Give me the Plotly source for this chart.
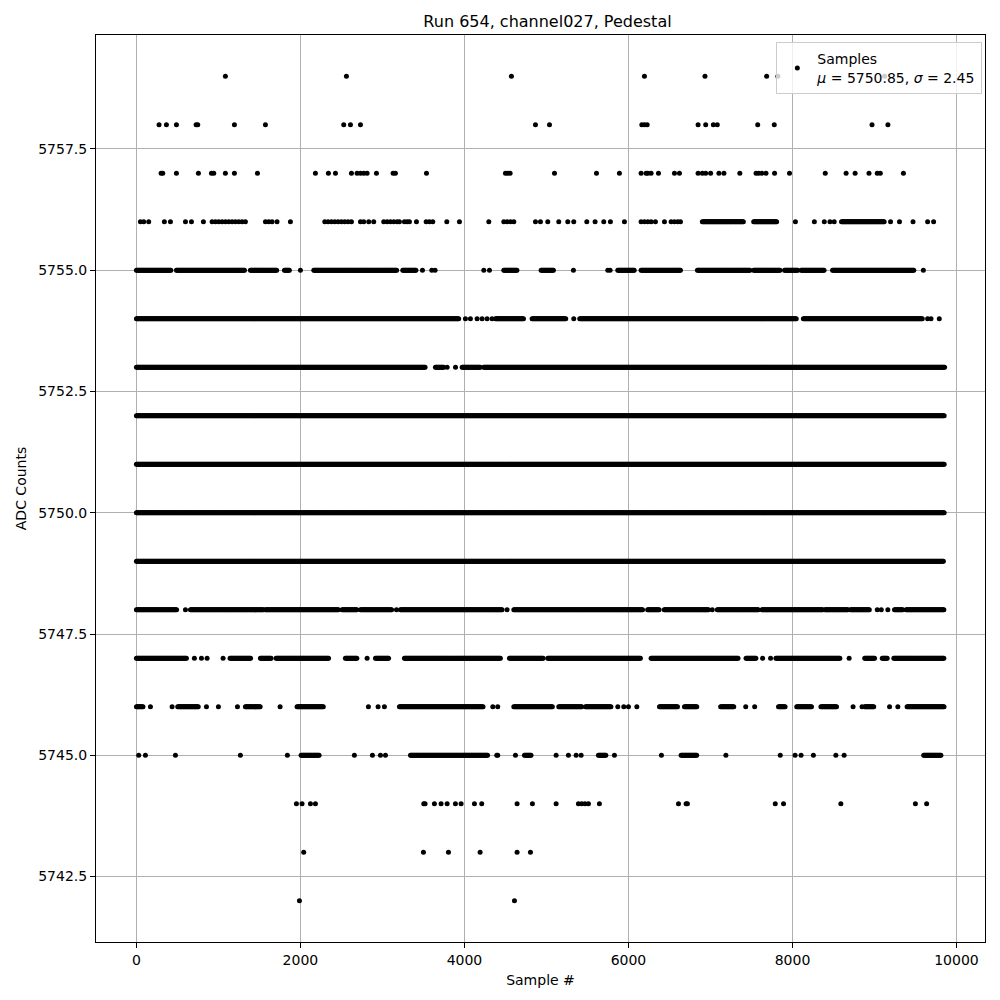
import numpy as np
import plotly.graph_objects as go

# ---- data (sample index positions per ADC level) ----
title_text = "Run 654, channel027, Pedestal"
x_ticks = [0, 2000, 4000, 6000, 8000, 10000]
y_ticks = [5742.5, 5745.0, 5747.5, 5750.0, 5752.5, 5755.0, 5757.5]
legend_label = "Samples<br><i>μ</i> = 5750.85, <i>σ</i> = 2.45"
n_samples = 9855

# runs of consecutive samples observed at each level: (first, last)
seg_5756 = [(6901, 7406), (7527, 7810), (8598, 9123)]
seg_5755 = [(0, 423), (488, 1321), (1390, 1715), (1805, 1870), (2163, 3179), (3248, 3411),
            (4480, 4642), (4935, 5085), (5870, 6073), (6154, 6642), (6841, 7487), (7527, 7851),
            (7903, 8065), (8105, 8388), (8489, 9487)]
seg_5754 = [(0, 3930), (4380, 4720), (4825, 5244), (5406, 8052), (8133, 9588)]
seg_5753 = [(0, 3525), (3646, 3748), (3972, 4195), (4235, 9855)]
seg_5752 = [(0, 9855)]
seg_5751 = [(0, 9855)]
seg_5750 = [(0, 9855)]
seg_5749 = [(0, 9840)]
seg_5748 = [(0, 496), (659, 1553), (1573, 2467), (2508, 2691), (2732, 3118), (3219, 4459),
            (4602, 6174), (6234, 6376), (6436, 6982), (7083, 7588), (7628, 8376), (8396, 8679),
            (8707, 8941), (9244, 9345), (9386, 9855)]
seg_5747 = [(0, 618), (1142, 1398), (1512, 1642), (1703, 2345), (2548, 2691), (2915, 3077),
            (3268, 4447), (4549, 4967), (5016, 6154), (6276, 7345), (7434, 7556), (7798, 8578),
            (8881, 9002), (9095, 9164), (9236, 9855)]
seg_5746 = [(0, 89), (504, 760), (1329, 1512), (1959, 2285), (3207, 4236), (4602, 5077),
            (5150, 5435), (5476, 5789), (6378, 6602), (6683, 6841), (7124, 7285), (7830, 7911),
            (8052, 8234), (8347, 8537), (8881, 8994), (9398, 9855)]
seg_5745 = [(2008, 2236), (3342, 4285), (4732, 4821), (5634, 5727), (6642, 6841), (9600, 9810)]

# isolated samples observed at each level
pts_5759 = [1085, 2561, 4573, 6195, 6933, 7685, 7822, 9123]
pts_5758 = [276, 366, 488, 728, 748, 1195, 1573, 2528, 2610, 2732, 4866, 5037, 6163, 6195, 6228,
            6849, 6942, 7035, 7083, 7576, 7778, 8970, 9164]
pts_5757 = [301, 321, 488, 756, 915, 943, 1085, 1195, 1476, 2183, 2341, 2427, 2622, 2691, 2732,
            2772, 2813, 2927, 3130, 3158, 3537, 4500, 4528, 4557, 5098, 5610, 5890, 6154, 6215,
            6236, 6276, 6366, 6561, 6622, 6849, 6901, 6942, 7002, 7103, 7164, 7358, 7556, 7588,
            7628, 7677, 7782, 7964, 8400, 8654, 8764, 8933, 9034, 9071, 9353]
pts_5756 = [49, 89, 150, 341, 415, 598, 671, 817, 923, 963, 1004, 1045, 1085, 1126, 1167, 1207,
            1248, 1289, 1329, 1573, 1614, 1654, 1715, 1878, 2297, 2337, 2378, 2419, 2459, 2500,
            2541, 2581, 2622, 2732, 2772, 2833, 2894, 3016, 3057, 3098, 3138, 3179, 3207, 3268,
            3301, 3329, 3415, 3533, 3573, 3614, 3785, 3939, 4297, 4480, 4520, 4561, 4602, 4866,
            4927, 5016, 5150, 5260, 5333, 5492, 5593, 5699, 5780, 5951, 6154, 6195, 6236, 6276,
            6329, 6439, 6520, 6561, 6602, 6634, 8036, 8267, 8388, 8457, 8509, 9196, 9305, 9470,
            9648, 9721]
pts_5755 = [2000, 3488, 3602, 3642, 4236, 4305, 5329, 5748, 5776, 9596]
pts_5754 = [4012, 4073, 4154, 4215, 4276, 4337, 5333, 9648, 9689, 9790]
pts_5753 = [3789, 3891]
pts_5748 = [598, 3171, 4520, 7022, 9034, 9083, 9163]
pts_5747 = [707, 793, 862, 1057, 2813, 7636, 7733, 8691]
pts_5746 = [171, 435, 854, 1000, 1232, 1752, 2829, 2947, 3024, 4346, 4406, 5870, 5943, 6000,
            6102, 7430, 7539, 8739, 8848, 9184, 9285]
pts_5745 = [28, 110, 476, 1268, 1841, 2658, 2878, 2976, 3037, 4394, 4406, 4622, 5118, 5268, 5362,
            5423, 5829, 6402, 7188, 7851, 8032, 8105, 8255, 8529, 8630]
pts_5744 = [1951, 2020, 2122, 2183, 3504, 3520, 3634, 3715, 3789, 3890, 3959, 4122, 4211, 4642,
            4829, 5118, 5390, 5430, 5470, 5512, 5646, 6610, 6703, 6719, 7790, 7891, 8590, 9499,
            9636]
pts_5743 = [2040, 3500, 3805, 4191, 4642, 4805]
pts_5742 = [1988, 4610]

level_data = {
    5759: ([], pts_5759), 5758: ([], pts_5758), 5757: ([], pts_5757),
    5756: (seg_5756, pts_5756), 5755: (seg_5755, pts_5755), 5754: (seg_5754, pts_5754),
    5753: (seg_5753, pts_5753), 5752: (seg_5752, []), 5751: (seg_5751, []),
    5750: (seg_5750, []), 5749: (seg_5749, []), 5748: (seg_5748, pts_5748),
    5747: (seg_5747, pts_5747), 5746: (seg_5746, pts_5746), 5745: (seg_5745, pts_5745),
    5744: ([], pts_5744), 5743: ([], pts_5743), 5742: ([], pts_5742),
}

xs, ys = [], []
for lvl, (segs, pts) in level_data.items():
    for a, b in segs:
        r = np.arange(a, b + 1, 10)
        xs.extend(r.tolist())
        ys.extend([lvl] * len(r))
    xs.extend(pts)
    ys.extend([lvl] * len(pts))

fig = go.Figure()
fig.add_trace(go.Scatter(
    x=xs, y=ys, mode="markers", name=legend_label,
    marker=dict(color="black", size=5, line=dict(width=0)),
    showlegend=True,
))

font_family = "DejaVu Sans"
xmargin = 0.05 * n_samples
ymargin = 0.05 * (5759 - 5742)
axis_common = dict(
    showgrid=True, gridcolor="#b0b0b0", gridwidth=1,
    showline=True, linecolor="black", linewidth=1, mirror=True,
    ticks="outside", ticklen=5, tickcolor="black", tickwidth=1,
    zeroline=False, tickfont=dict(size=14, color="black", family=font_family),
)
fig.update_xaxes(range=[-xmargin, n_samples + xmargin], tickvals=x_ticks,
                 ticktext=[str(v) for v in x_ticks],
                 title=dict(text="Sample #", font=dict(size=14, color="black", family=font_family),
                            standoff=8),
                 **axis_common)
fig.update_yaxes(range=[5742 - ymargin, 5759 + ymargin], tickvals=y_ticks,
                 ticktext=[f"{v:.1f}" for v in y_ticks],
                 title=dict(text="ADC Counts", font=dict(size=14, color="black", family=font_family),
                            standoff=8),
                 **axis_common)

fig.update_layout(
    width=1000, height=1000,
    margin=dict(l=86, r=23, t=27, b=66),
    paper_bgcolor="white", plot_bgcolor="white",
    title=dict(text=title_text, x=0.5395, xanchor="center", y=0.987, yanchor="middle",
               font=dict(size=16, color="black", family=font_family)),
    font=dict(family=font_family, color="black"),
    legend=dict(x=0.997, xanchor="right", y=0.992, yanchor="top",
                bgcolor="rgba(255,255,255,0.8)", bordercolor="#cccccc", borderwidth=1,
                font=dict(size=14, color="black", family=font_family)),
)

fig.write_html("out.html")
